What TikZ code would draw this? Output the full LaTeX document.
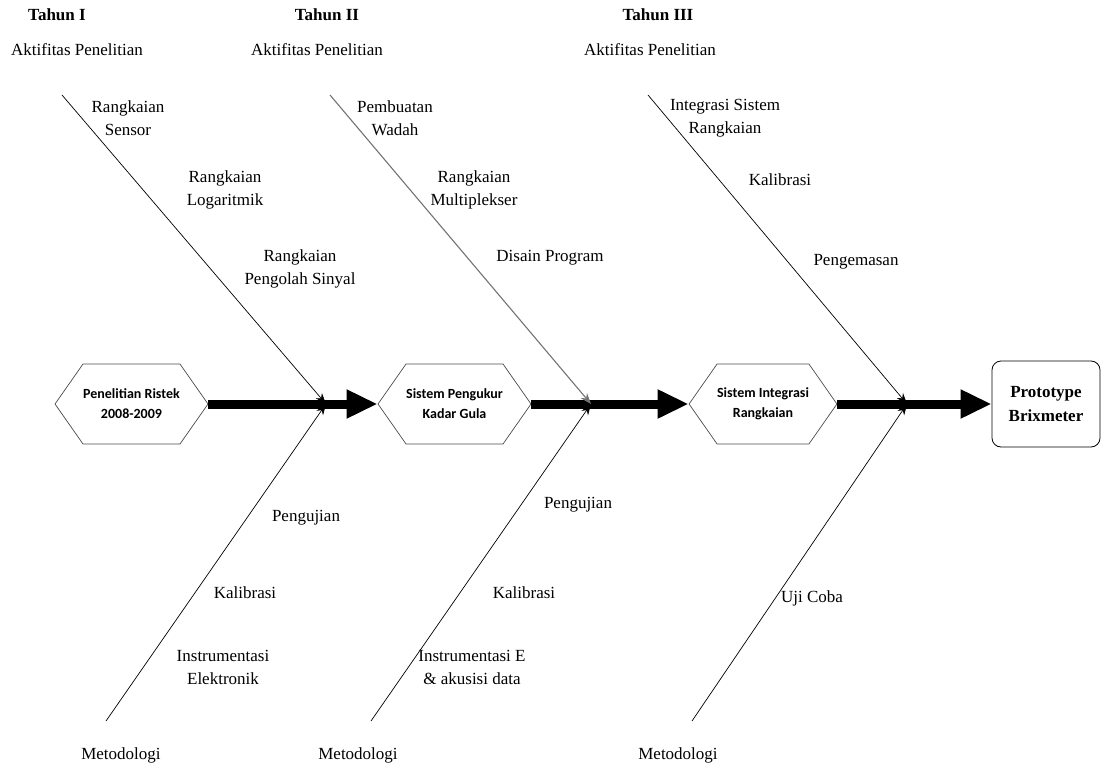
\documentclass[tikz,border=0pt]{standalone}
\usepackage{fontspec}
\setmainfont{Liberation Serif}
\newfontfamily\calfont{Carlito}
\usetikzlibrary{shapes.symbols,arrows.meta}
\begin{document}
\begin{tikzpicture}[x=1pt,y=-1pt,
  txt/.style={font=\fontsize{17}{23}\selectfont, align=center, inner sep=0pt},
  yr/.style={font=\bfseries\fontsize{17}{20}\selectfont, inner sep=0pt},
  hexa/.style={signal, signal to=east and west, signal pointer angle=110,
    draw=black!70, line width=0.7pt, fill=white,
    font=\calfont\bfseries\fontsize{14}{20}\selectfont, align=center,
    inner sep=0pt, minimum height=80pt},
  goal/.style={draw, line width=0.8pt, rounded corners=9pt, fill=white,
    font=\bfseries\fontsize{17}{24}\selectfont, align=center,
    minimum width=108pt, minimum height=86pt, inner sep=0pt},
  spine/.style={line width=9pt, -{Triangle[length=31pt,width=27pt]}},
  bone/.style={line width=0.7pt, -{Stealth[length=11pt,width=8pt]}},
]
\useasboundingbox (0,0) rectangle (1102,778);

% stages along the main axis
\node[hexa, minimum width=153pt] (h1) at (131.5,404) {Penelitian Ristek\\2008-2009};
\node[hexa, minimum width=153pt] (h2) at (454.5,404) {Sistem Pengukur\\Kadar Gula};
\node[hexa, minimum width=134pt] (h3) at (763,404) {Sistem Integrasi\\Rangkaian};
\node[goal] (g) at (1046,404) {Prototype\\Brixmeter};

% main axis
\draw[spine] (h1.east) -- (h2.west);
\draw[spine] (h2.east) -- (h3.west);
\draw[spine] (h3.east) -- (g.west);

% junctions on the axis and free ends of the bones
\coordinate (j1) at (326,404);
\coordinate (j2) at (591,404);
\coordinate (j3) at (907,404);
\coordinate (u1) at (62,95);
\coordinate (u2) at (330,95);
\coordinate (u3) at (648,95);
\coordinate (d1) at (106,721);
\coordinate (d2) at (371,721);
\coordinate (d3) at (692,721);

% bones
\draw[bone] (u1) -- (j1);
\draw[bone, draw=black!55, line width=1.1pt] (u2) -- (j2);
\draw[bone] (u3) -- (j3);
\draw[bone] (d1) -- (j1);
\draw[bone] (d2) -- (j2);
\draw[bone] (d3) -- (j3);

% year headings
\node[yr] (t1) at (57,15) {Tahun I};
\node[yr] (t2) at (327,15) {Tahun II};
\node[yr] (t3) at (658,15) {Tahun III};
\node[txt] (a1) at (77,50) {Aktifitas Penelitian};
\node[txt] (a2) at (317,50) {Aktifitas Penelitian};
\node[txt] (a3) at (650,50) {Aktifitas Penelitian};

% research activities
\node[txt] (r11) at (128,118) {Rangkaian\\Sensor};
\node[txt] (r12) at (225,190) {Rangkaian\\Logaritmik};
\node[txt] (r13) at (300,269) {Rangkaian\\Pengolah Sinyal};
\node[txt] (r21) at (395,118) {Pembuatan\\Wadah};
\node[txt] (r22) at (474,190) {Rangkaian\\Multiplekser};
\node[txt] (r23) at (550,258) {Disain Program};
\node[txt] (r31) at (725,118) {Integrasi Sistem\\Rangkaian};
\node[txt] (r32) at (780,180) {Kalibrasi};
\node[txt] (r33) at (856,262) {Pengemasan};

% methodology
\node[txt] (m11) at (306,518) {Pengujian};
\node[txt] (m12) at (245,593) {Kalibrasi};
\node[txt] (m13) at (223,667) {Instrumentasi\\Elektronik};
\node[txt] (m21) at (578,505) {Pengujian};
\node[txt] (m22) at (524,593) {Kalibrasi};
\node[txt] (m23) at (472,667) {Instrumentasi E\\\& akusisi data};
\node[txt] (m31) at (812,598) {Uji Coba};

\node[txt] (b1) at (121,755) {Metodologi};
\node[txt] (b2) at (358,755) {Metodologi};
\node[txt] (b3) at (678,755) {Metodologi};
\end{tikzpicture}
\end{document}
